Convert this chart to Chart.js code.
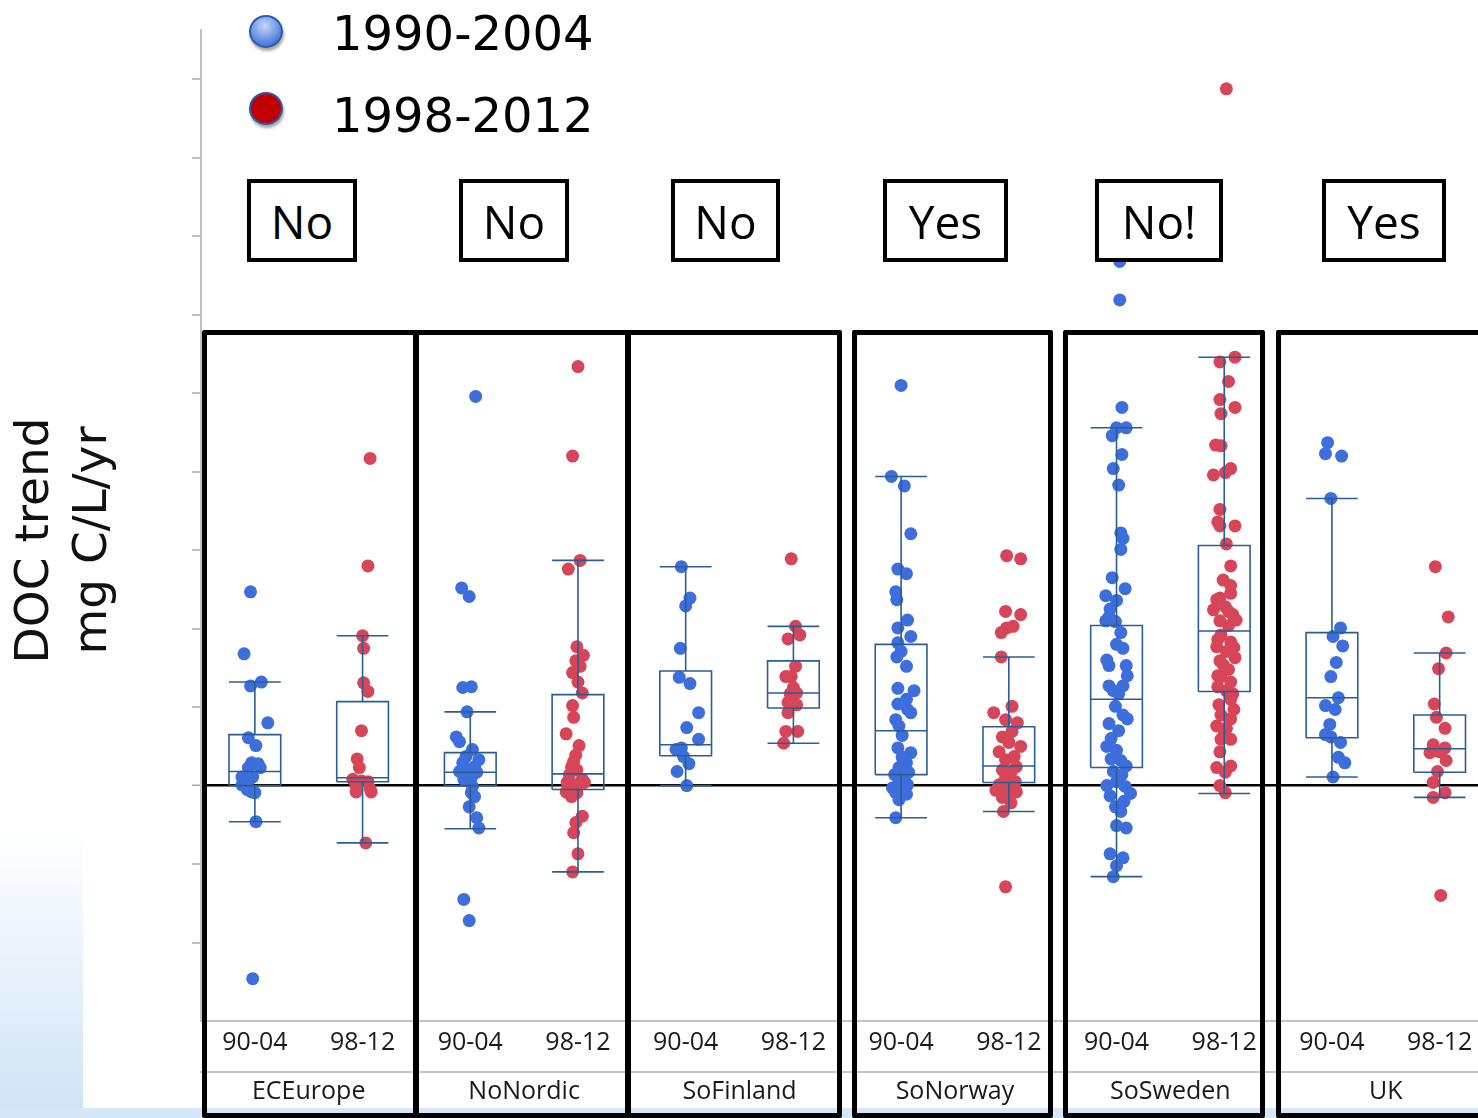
<!DOCTYPE html>
<html>
<head>
<meta charset="utf-8">
<script src="https://cdn.jsdelivr.net/npm/chart.js@4.4.1/dist/chart.umd.min.js"></script>
<style>
  body { margin: 0; overflow: hidden; background: #fff; width: 1478px; height: 1118px; position: relative; }
  #wrap { position: absolute; left: 0; top: 0; width: 1500px; height: 1118px; }
  .deco { position: absolute; }
  .frame { position: absolute; top: 330px; height: 788px; border: 5px solid #000; box-sizing: border-box; border-radius: 2px; pointer-events: none; }
  .ans { position: absolute; top: 179px; height: 83px; border: 4px solid #000; box-sizing: border-box; background: #fff;
         font: 46px 'Open Sans', sans-serif; color: #000; display: flex; align-items: center; justify-content: center; }
  .dot { position: absolute; width: 30px; height: 29px; border-radius: 50%; border: 2px solid #2a5aa8; box-shadow: 1px 3px 3px rgba(0,0,0,0.35); }
  .legtxt { position: absolute; left: 332px; font: 48px 'DejaVu Sans', sans-serif; line-height: 56px; color: #000; }
</style>
</head>
<body>
<div class="deco" style="left:0;top:830px;width:83px;height:288px;background:linear-gradient(to bottom,#fff,#cfe3f6);"></div>
<div class="deco" style="left:0;top:1108px;width:1478px;height:10px;background:#d6e8f7;"></div>
<div id="wrap"><canvas id="chart" width="1500" height="1118"></canvas></div>

<div class="dot" style="left:249px;top:15px;background:radial-gradient(circle at 45% 30%,#c3d5fa,#5a86de 65%,#2f5fb8);"></div>
<div class="dot" style="left:249px;top:92px;background:#c00000;"></div>
<div class="legtxt" style="top:5px;">1990-2004</div>
<div class="legtxt" style="top:87px;">1998-2012</div>

<div class="ans" style="left:247px;width:110px;">No</div>
<div class="ans" style="left:459px;width:110px;">No</div>
<div class="ans" style="left:671px;width:109px;">No</div>
<div class="ans" style="left:883px;width:125px;">Yes</div>
<div class="ans" style="left:1095px;width:128px;">No!</div>
<div class="ans" style="left:1322px;width:124px;">Yes</div>

<div class="frame" style="left:202px;width:217px;"></div>
<div class="frame" style="left:413px;width:218px;"></div>
<div class="frame" style="left:625px;width:217px;"></div>
<div class="frame" style="left:852px;width:201px;"></div>
<div class="frame" style="left:1063px;width:202px;"></div>
<div class="frame" style="left:1276px;width:230px;"></div>

<script>
// regions and periods
const regions = ["ECEurope", "NoNordic", "SoFinland", "SoNorway", "SoSweden", "UK"];
const periods = ["90-04", "98-12"];

// DOC trend per site (mg C/L/yr); *Jit = horizontal jitter
const ecEurope90 = [0.247,0.168,0.132,0.127,0.080,0.061,0.051,0.029,0.028,0.023,0.023,0.011,0.011,0.008,0.004,0.001,-0.005,-0.008,-0.009,-0.046,-0.246];
const ecEurope90Jit = [-0.04,-0.10,0.06,-0.04,0.12,-0.06,0.01,-0.03,0.03,-0.06,0.05,-0.12,-0.02,-0.05,-0.09,-0.12,-0.07,-0.03,0.00,0.01,-0.02];
const ecEurope98 = [0.417,0.280,0.191,0.175,0.131,0.120,0.070,0.034,0.023,0.008,0.006,0.005,-0.008,-0.008,-0.073,0.000,-0.004];
const ecEurope98Jit = [0.07,0.05,0.00,0.01,0.01,0.05,-0.01,-0.05,-0.03,-0.09,-0.01,0.05,-0.06,0.08,0.03,-0.06,0.07];

const noNordic90 = [0.496,0.252,0.241,0.125,0.126,0.094,0.062,0.056,0.046,0.037,0.033,0.029,0.024,0.020,0.018,0.017,0.010,0.008,-0.001,-0.009,-0.014,-0.027,-0.041,-0.054,-0.145,-0.172];
const noNordic90Jit = [0.05,-0.08,-0.01,-0.07,0.01,-0.03,-0.13,-0.10,0.02,-0.04,0.08,-0.07,0.04,-0.03,-0.10,0.06,0.01,-0.06,0.02,0.01,0.04,-0.01,0.06,0.08,-0.06,-0.01];
const noNordic98 = [0.534,0.420,0.287,0.276,0.177,0.166,0.159,0.152,0.144,0.132,0.118,0.102,0.087,0.066,0.051,0.039,0.031,0.024,0.020,0.014,0.008,0.004,0.001,0.004,-0.003,-0.008,-0.009,-0.014,-0.039,-0.047,-0.060,-0.087,-0.110];
const noNordic98Jit = [0.00,-0.05,0.02,-0.09,-0.01,0.05,-0.02,0.02,-0.05,0.00,0.04,-0.05,-0.04,-0.11,0.01,-0.02,-0.04,-0.06,-0.01,-0.08,0.04,-0.10,-0.02,0.06,-0.07,-0.11,-0.01,-0.06,0.04,-0.02,-0.04,0.00,-0.05];

const soFinland90 = [0.279,0.239,0.229,0.175,0.138,0.130,0.093,0.074,0.059,0.046,0.048,0.037,0.028,0.018,0.000];
const soFinland90Jit = [-0.04,0.04,0.00,-0.05,-0.06,0.04,0.12,0.01,0.12,-0.09,-0.04,-0.02,0.03,-0.08,0.01];
const soFinland98 = [0.289,0.203,0.192,0.187,0.152,0.139,0.139,0.125,0.117,0.118,0.106,0.103,0.093,0.069,0.069,0.054];
const soFinland98Jit = [-0.02,0.02,0.06,-0.05,0.02,-0.07,-0.02,0.00,-0.03,0.03,-0.05,0.03,-0.05,-0.07,0.04,-0.09];

const soNorway90 = [0.510,0.394,0.382,0.321,0.276,0.270,0.247,0.237,0.211,0.201,0.190,0.182,0.171,0.164,0.152,0.124,0.121,0.110,0.104,0.097,0.093,0.084,0.076,0.064,0.048,0.042,0.036,0.029,0.023,0.017,0.014,0.010,0.004,0.001,-0.003,-0.005,-0.009,-0.011,-0.018,-0.041];
const soNorway90Jit = [0.00,-0.09,0.03,0.09,-0.03,0.05,-0.05,-0.04,0.06,-0.03,0.09,-0.03,0.00,-0.04,0.05,-0.03,0.12,0.05,-0.03,0.06,0.09,-0.05,-0.02,0.01,-0.03,0.09,0.01,0.05,-0.02,0.07,-0.06,0.03,-0.02,0.06,-0.08,0.01,-0.05,0.05,-0.02,-0.05];
const soNorway98 = [0.293,0.289,0.222,0.218,0.203,0.201,0.195,0.164,0.101,0.093,0.084,0.080,0.069,0.062,0.055,0.050,0.043,0.037,0.033,0.024,0.020,0.017,0.010,0.005,0.001,-0.001,-0.006,-0.009,-0.008,-0.015,-0.022,-0.033,-0.129];
const soNorway98Jit = [-0.02,0.11,-0.03,0.11,0.04,-0.02,-0.07,-0.07,0.03,-0.14,-0.03,0.08,0.03,-0.06,0.00,0.11,-0.09,0.05,-0.03,0.07,-0.06,0.02,-0.03,0.06,-0.09,0.00,-0.12,-0.02,0.07,-0.06,0.02,-0.05,-0.03];

const soSweden90 = [0.668,0.619,0.482,0.456,0.456,0.446,0.422,0.404,0.383,0.322,0.315,0.301,0.251,0.242,0.236,0.225,0.215,0.210,0.209,0.195,0.180,0.175,0.153,0.153,0.127,0.127,0.121,0.117,0.101,0.090,0.079,0.070,0.050,0.045,0.034,0.032,0.018,0.014,0.005,0.000,-0.001,-0.013,-0.010,-0.027,-0.033,-0.051,-0.054,-0.087,-0.092,-0.102,-0.116,0.160,0.085,0.060,0.025,-0.020,0.140,0.265];
const soSweden90Jit = [0.03,0.03,0.05,0.00,0.09,-0.04,0.05,-0.03,0.02,0.04,0.06,0.04,0.08,-0.10,0.00,-0.06,-0.07,-0.10,-0.01,0.04,0.00,0.06,-0.07,0.09,-0.07,0.06,-0.03,0.02,-0.01,0.06,-0.07,0.02,-0.09,0.00,-0.05,0.04,-0.03,0.05,0.00,-0.09,0.08,-0.06,0.13,-0.01,0.04,0.00,0.09,-0.06,0.06,0.00,-0.03,-0.09,0.10,-0.05,0.09,0.07,0.10,-0.04];
const soSweden98 = [0.888,0.546,0.540,0.515,0.492,0.482,0.474,0.434,0.433,0.404,0.396,0.399,0.352,0.336,0.331,0.331,0.308,0.280,0.262,0.255,0.239,0.245,0.228,0.218,0.210,0.204,0.192,0.183,0.177,0.171,0.163,0.159,0.148,0.139,0.132,0.126,0.121,0.117,0.090,0.085,0.076,0.073,0.059,0.059,0.043,0.025,0.023,0.017,0.000,-0.009,0.237,0.222,0.186,0.176,0.154,0.140,0.110,0.103,0.097,0.065,0.211,0.224];
const soSweden98Jit = [0.02,0.10,-0.04,0.04,-0.04,0.10,-0.03,-0.08,-0.03,0.06,-0.10,0.01,-0.04,-0.06,0.10,-0.04,0.02,0.06,-0.01,0.06,-0.04,0.06,0.01,0.08,-0.04,0.04,-0.03,0.06,-0.07,0.02,0.10,-0.04,0.04,-0.03,0.06,-0.06,0.02,0.08,-0.03,0.06,-0.07,0.02,-0.03,0.06,-0.04,0.06,-0.07,0.01,-0.04,0.01,-0.07,0.04,-0.06,0.09,-0.01,-0.06,0.06,-0.05,0.09,0.00,0.11,-0.10];

const uk90 = [0.437,0.423,0.420,0.366,0.201,0.190,0.178,0.157,0.139,0.112,0.102,0.097,0.078,0.065,0.062,0.055,0.036,0.029,0.011];
const uk90Jit = [-0.04,-0.06,0.09,-0.01,0.08,0.01,0.10,0.04,-0.01,0.06,-0.06,0.03,-0.02,-0.06,-0.01,0.08,0.06,0.12,0.01];
const uk98 = [0.279,0.215,0.169,0.149,0.104,0.087,0.073,0.052,0.048,0.043,0.042,0.032,0.018,0.004,-0.009,-0.015,-0.140];
const uk98Jit = [-0.04,0.08,0.06,-0.01,-0.05,-0.03,0.05,-0.06,0.05,0.00,-0.09,0.06,-0.02,-0.06,0.05,-0.06,0.01];

// box plot stats per region: [low whisker, q1, median, q3, high whisker]
const box90 = [
  [-0.046, 0.000, 0.018, 0.065, 0.132],
  [-0.055, 0.000, 0.017, 0.042, 0.094],
  [0.000, 0.038, 0.052, 0.146, 0.279],
  [-0.041, 0.014, 0.070, 0.180, 0.394],
  [-0.116, 0.023, 0.110, 0.204, 0.456],
  [0.011, 0.061, 0.112, 0.195, 0.366]
];
const box98 = [
  [-0.073, 0.005, 0.010, 0.107, 0.191],
  [-0.110, -0.005, 0.015, 0.116, 0.287],
  [0.054, 0.099, 0.118, 0.159, 0.203],
  [-0.033, 0.004, 0.025, 0.075, 0.164],
  [-0.010, 0.120, 0.197, 0.306, 0.546],
  [-0.015, 0.017, 0.047, 0.090, 0.169]
];

const series90 = [[ecEurope90, ecEurope90Jit], [noNordic90, noNordic90Jit], [soFinland90, soFinland90Jit],
                  [soNorway90, soNorway90Jit], [soSweden90, soSweden90Jit], [uk90, uk90Jit]];
const series98 = [[ecEurope98, ecEurope98Jit], [noNordic98, noNordic98Jit], [soFinland98, soFinland98Jit],
                  [soNorway98, soNorway98Jit], [soSweden98, soSweden98Jit], [uk98, uk98Jit]];

const subLabels = [];
regions.forEach(() => periods.forEach(p => subLabels.push(p)));

function points(series, shift) {
  const out = [];
  series.forEach(([vals, jit], g) => {
    vals.forEach((v, i) => out.push({ x: 2 * g + shift + (jit[i] || 0), y: v }));
  });
  return out;
}

// box outline, median, whiskers and caps as one broken line
const HALF = 0.24;
function boxLine(c, s) {
  const [lo, q1, med, q3, hi] = s;
  const gap = { x: c, y: null };
  return [
    { x: c - HALF, y: q1 }, { x: c + HALF, y: q1 }, { x: c + HALF, y: q3 }, { x: c - HALF, y: q3 }, { x: c - HALF, y: q1 }, gap,
    { x: c - HALF, y: med }, { x: c + HALF, y: med }, gap,
    { x: c, y: q3 }, { x: c, y: hi }, gap,
    { x: c - HALF, y: hi }, { x: c + HALF, y: hi }, gap,
    { x: c, y: q1 }, { x: c, y: lo }, gap,
    { x: c - HALF, y: lo }, { x: c + HALF, y: lo }
  ];
}

const boxColor = "#2a5d95";
const boxSets = [];
regions.forEach((r, g) => {
  [box90[g], box98[g]].forEach((s, k) => {
    boxSets.push({
      label: r + " " + periods[k] + " box",
      data: boxLine(2 * g + k, s),
      showLine: true,
      borderColor: boxColor,
      borderWidth: 1.6,
      pointRadius: 0,
      fill: false,
      order: 0
    });
  });
});

new Chart(document.getElementById("chart"), {
  type: "scatter",
  data: {
    datasets: [
      ...boxSets,
      { label: "1990-2004", data: points(series90, 0), backgroundColor: "#3e6edb", borderWidth: 0, pointRadius: 6.5, order: 1 },
      { label: "1998-2012", data: points(series98, 1), backgroundColor: "#d64558", borderWidth: 0, pointRadius: 6.5, order: 1 }
    ]
  },
  options: {
    responsive: false,
    animation: false,
    layout: { padding: { top: 30, right: 3, left: 0, bottom: 0 } },
    plugins: { legend: { display: false }, tooltip: { enabled: false } },
    scales: {
      x: { type: "linear", min: -0.5, max: 11.5, display: false },
      xSub: {
        type: "category", labels: subLabels, position: "bottom", offset: true, weight: 0,
        grid: { display: false, drawTicks: false },
        border: { color: "#c4c4c4", width: 2 },
        ticks: { color: "#1a1a1a", font: { family: "'Open Sans', sans-serif", size: 25 }, padding: 7, maxRotation: 0, autoSkip: false },
        afterFit: s => { s.height = 51; }
      },
      xGrp: {
        type: "category", labels: regions, position: "bottom", offset: true, weight: 1,
        grid: { display: false, drawTicks: false },
        border: { color: "#c4c4c4", width: 2 },
        ticks: { color: "#1a1a1a", font: { family: "'Open Sans', sans-serif", size: 25 }, padding: 5, maxRotation: 0, autoSkip: false },
        afterFit: s => { s.height = 46; }
      },
      y: {
        min: -0.3, max: 0.963,
        ticks: { stepSize: 0.1, display: false, includeBounds: false },
        grid: {
          drawOnChartArea: true,
          color: c => (c.tick && c.tick.value === 0 ? "#000" : "rgba(0,0,0,0)"),
          lineWidth: c => (c.tick && c.tick.value === 0 ? 2.5 : 0),
          tickColor: "#a8a8a8", tickWidth: 1.5, tickLength: 9
        },
        border: { color: "#c0c0c0", width: 2 },
        title: {
          display: true,
          text: ["DOC trend  ", "mg C/L/yr  "],
          color: "#111",
          font: { family: "'DejaVu Sans', sans-serif", size: 47, lineHeight: 1.25 },
          padding: { top: 6, bottom: 0 }
        },
        afterFit: s => { s.width = 201; }
      }
    }
  }
});
</script>
</body>
</html>
